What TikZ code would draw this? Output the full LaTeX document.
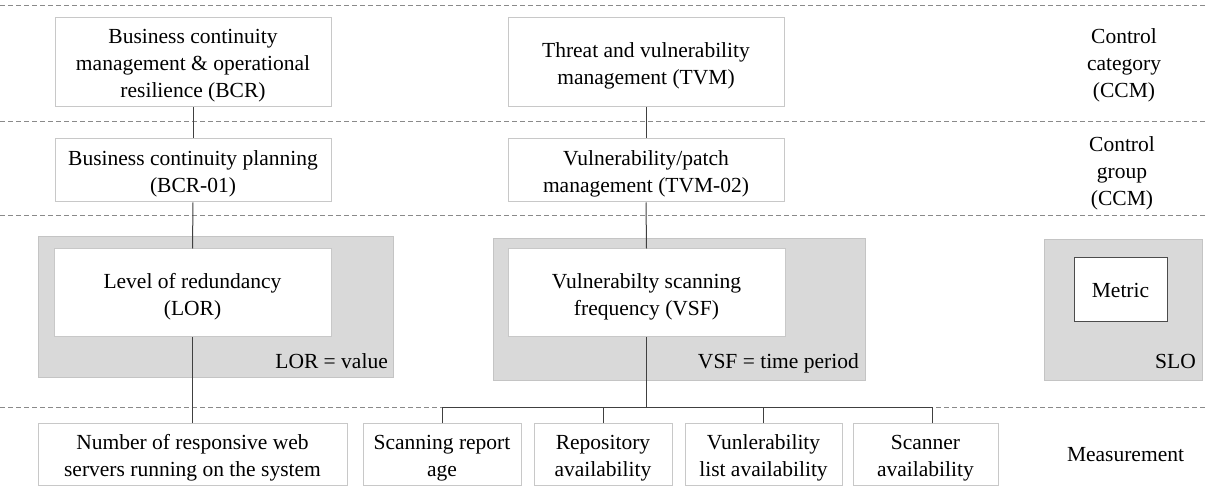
\documentclass[tikz,border=0pt]{standalone}
\usepackage{fontspec}
\setmainfont{Liberation Serif}
\usetikzlibrary{calc}
\definecolor{boxline}{HTML}{C8C8C8}
\definecolor{slofill}{HTML}{D9D9D9}
\definecolor{sloline}{HTML}{C4C4C4}
\definecolor{linkline}{HTML}{404040}
\definecolor{sepline}{HTML}{8A8A8A}
\tikzset{
  every node/.style={font=\fontsize{21.5}{27}\selectfont, align=center, inner sep=0pt, text=black},
  plainbox/.style={draw=boxline, line width=1pt, fill=white},
  slobox/.style={draw=sloline, line width=1pt, fill=slofill},
  metricbox/.style={draw=black!70, line width=1pt, fill=white},
  % box caption, set a little below the geometric centre of its frame
  caption/.style={label={[yshift=-3.5pt]center:{#1}}},
  link/.style={draw=linkline, line width=1pt},
  separator/.style={draw=sepline, line width=0.9pt, dash pattern=on 5pt off 3pt},
  rowlabel/.style={text width=110pt}
}
\begin{document}
\begin{tikzpicture}[x=1pt, y=-1pt]
\useasboundingbox (0,0) rectangle (1205,494);

% layer separators
\foreach \yy in {5,121,215,407}
  \draw[separator] (0,\yy) -- (1205,\yy);

% SLO frames (drawn first so the white metric boxes sit on top)
\node[slobox, minimum width=355pt, minimum height=140pt] (lorslo) at (215.5,307) {};
\node[slobox, minimum width=372pt, minimum height=141pt] (vsfslo) at (679,309.5) {};
\node[slobox, minimum width=158pt, minimum height=140pt] (legslo) at (1123,310) {};
\node[anchor=base east] (lorval) at (388,368) {LOR = value};
\node[anchor=base east] (vsfval) at (859,368) {VSF = time period};
\node[anchor=base east] (slolbl) at (1196,368) {SLO};

% control category
\node[plainbox, minimum width=276pt, minimum height=89pt,
  caption={Business continuity\\management \& operational\\resilience (BCR)}] (bcr) at (193,62.5) {};
\node[plainbox, minimum width=276pt, minimum height=89pt,
  caption={Threat and vulnerability\\management (TVM)}] (tvm) at (646,62.5) {};

% control group
\node[plainbox, minimum width=276pt, minimum height=63pt,
  caption={Business continuity planning\\(BCR-01)}] (bcr01) at (193,170.5) {};
\node[plainbox, minimum width=276pt, minimum height=63pt,
  caption={Vulnerability/patch\\management (TVM-02)}] (tvm02) at (646,170.5) {};

% metrics
\node[plainbox, minimum width=277pt, minimum height=88pt,
  caption={Level of redundancy\\(LOR)}] (lor) at (192.5,293) {};
\node[plainbox, minimum width=277pt, minimum height=88pt,
  caption={Vulnerabilty scanning\\frequency (VSF)}] (vsf) at (646.5,293) {};
\node[metricbox, minimum width=93pt, minimum height=64pt] (metric) at (1120.5,290) {Metric};

% measurements
\node[plainbox, minimum width=309pt, minimum height=62pt,
  caption={Number of responsive web\\servers running on the system}] (web) at (192.5,454.5) {};
\node[plainbox, minimum width=158pt, minimum height=62pt,
  caption={Scanning report\\age}] (sra) at (442,454.5) {};
\node[plainbox, minimum width=138pt, minimum height=62pt,
  caption={Repository\\availability}] (rep) at (603,454.5) {};
\node[plainbox, minimum width=157pt, minimum height=62pt,
  caption={Vunlerability\\list availability}] (vla) at (763.5,454.5) {};
\node[plainbox, minimum width=145pt, minimum height=62pt,
  caption={Scanner\\availability}] (sca) at (925.5,454.5) {};

% row labels
\node[rowlabel] (lblcat) at (1124,65) {Control\\category\\(CCM)};
\node[rowlabel] (lblgrp) at (1122,173) {Control\\group\\(CCM)};
\node[rowlabel] (lblmea) at (1122,455) {Measurement};

% connectors
\draw[link] (bcr.south) -- (bcr01.north);
\draw[link] (bcr01.south) -- (lor.north);
\draw[link] (lor.south) -- (web.north);
\draw[link] (tvm.south) -- (tvm02.north);
\draw[link] (tvm02.south) -- (vsf.north);

\coordinate (bus) at ($(vsf.south)+(0,70)$);
\coordinate (scatop) at ($(sca.north)+(6.5,0)$);
\draw[link] (vsf.south) -- (bus);
\draw[link] (sra.north) |- (bus);
\draw[link] (scatop) |- (bus);
\draw[link] (rep.north) -- (rep.north |- bus);
\draw[link] (vla.north) -- (vla.north |- bus);
\end{tikzpicture}
\end{document}
